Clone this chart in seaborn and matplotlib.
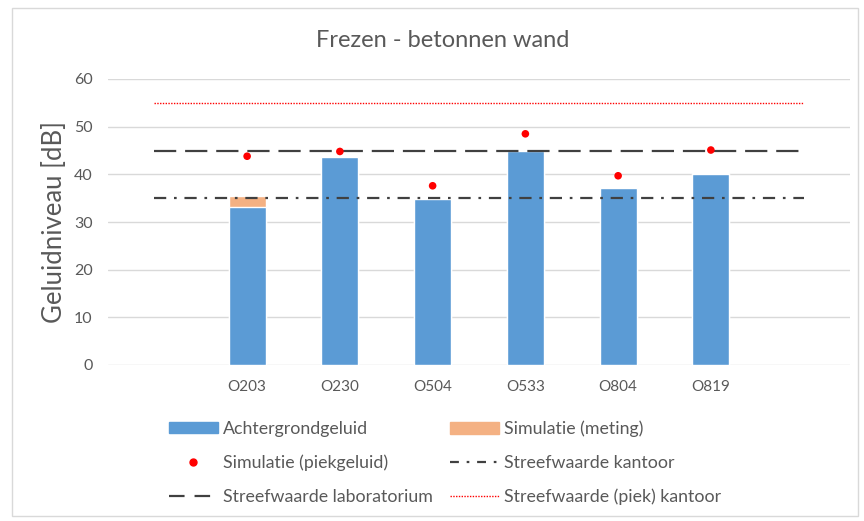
import numpy as np
import pandas as pd
import matplotlib
matplotlib.use("Agg")
import matplotlib.pyplot as plt
import matplotlib.patches as mpatches
from matplotlib.lines import Line2D
import seaborn as sns

categories = ["", "O203", "O230", "O504", "O533", "O804", "O819", " "]
achtergrond = [np.nan, 33.2, 43.7, 34.9, 44.9, 37.1, 40.0, np.nan]
sim_meting = [np.nan, 2.2, 0.0, 0.0, 0.2, 0.0, 0.2, np.nan]
sim_piek = [np.nan, 43.8, 44.8, 37.6, 48.5, 39.7, 45.1, np.nan]
streef_kantoor = [35] * 8
streef_lab = [45] * 8
streef_piek_kantoor = [55] * 8

sns.set_theme(style="white")
plt.rcParams['font.family'] = ['Lato', 'DejaVu Sans']

df = pd.DataFrame({"cat": categories, "achter": achtergrond,
                   "meting": sim_meting, "piek": sim_piek})
df["totaal"] = df["achter"] + df["meting"]

fig = plt.figure(figsize=(8.64, 5.21), dpi=100)
ax = fig.add_axes([108/864, 1-365/521, (850-108)/864, (365-79)/521])

blue = "#5B9BD5"
orange = "#F4B183"
grey_txt = "#595959"
dark = "#404040"

# stacked: total (orange top segment) underneath, background bar over it
sns.barplot(data=df, x="cat", y="totaal", order=categories, color=orange,
            width=0.4, saturation=1, ax=ax, zorder=2)
sns.barplot(data=df, x="cat", y="achter", order=categories, color=blue,
            width=0.4, saturation=1, ax=ax, zorder=2)

xs = np.arange(len(categories))
ls_dashdot = (0, (5.5, 3.5, 1.2, 3.5))
ls_dash = (0, (10, 4))
ls_dot = (0, (1, 1))
ax.plot(xs, streef_piek_kantoor, color="#FF0000", lw=1.0, ls=ls_dot, zorder=3)
ax.plot(xs, streef_lab, color=dark, lw=1.6, ls=ls_dash, zorder=3)
ax.plot(xs, streef_kantoor, color=dark, lw=1.6, ls=ls_dashdot, zorder=3)
sns.scatterplot(data=df, x="cat", y="piek", color="#FF0000", s=30,
                edgecolor="none", ax=ax, zorder=4)

ax.set_xlim(-0.5, 7.5)
ax.set_ylim(0, 60)
ax.set_yticks(range(0, 61, 10))
ax.yaxis.grid(True, color="#D9D9D9", lw=1)
ax.set_axisbelow(True)
for s in ax.spines.values():
    s.set_visible(False)
ax.tick_params(axis="y", length=0, labelsize=11.5, labelcolor=grey_txt, pad=11)
ax.tick_params(axis="x", length=0, labelsize=11, labelcolor=grey_txt, pad=11)
ax.set_xlabel("")
ax.set_ylabel("Geluidniveau [dB]", fontsize=18.5, color=grey_txt, labelpad=5)
fig.text(443/864, 1-47/521, "Frezen - betonnen wand", fontsize=17, color=grey_txt,
         ha="center", va="baseline")

h_achter = mpatches.Patch(color=blue)
h_meting = mpatches.Patch(color=orange)
h_piek = Line2D([], [], ls="none", marker="o", color="#FF0000", markersize=5)
h_kantoor = Line2D([], [], color=dark, lw=1.6, ls=(0, (4, 3.5, 1.2, 3.5)))
h_lab = Line2D([], [], color=dark, lw=1.6, ls=(0, (7, 4.5)))
h_pk = Line2D([], [], color="#FF0000", lw=1.0, ls=ls_dot)

leg_kw = dict(loc="center left", frameon=False, fontsize=12.8, labelcolor=grey_txt,
              handlelength=2.75, handleheight=0.6, handletextpad=0.3,
              labelspacing=1.0, borderpad=0, borderaxespad=0)
leg1 = fig.legend([h_achter, h_piek, h_lab],
                  ["Achtergrondgeluid", "Simulatie (piekgeluid)", "Streefwaarde laboratorium"],
                  bbox_to_anchor=(169/864, 1-463/521), **leg_kw)
leg2 = fig.legend([h_meting, h_kantoor, h_pk],
                  ["Simulatie (meting)", "Streefwaarde kantoor", "Streefwaarde (piek) kantoor"],
                  bbox_to_anchor=(450/864, 1-463/521), **leg_kw)

fig.patches.append(mpatches.Rectangle((12/864, 5/521), (858-12)/864, (513-5)/521,
                                      transform=fig.transFigure, fill=False,
                                      edgecolor="#D9D9D9", lw=1))

fig.savefig("out.png", dpi=100)
